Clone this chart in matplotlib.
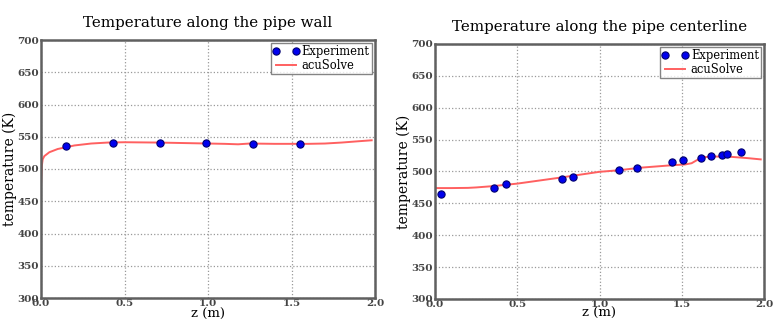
import matplotlib
matplotlib.use("Agg")
import matplotlib.pyplot as plt
import numpy as np

# Pipe wall data
wall_exp_z = [0.15, 0.43, 0.71, 0.99, 1.27, 1.55]
wall_exp_T = [536, 541, 541, 540, 539.5, 538.7]
wall_sim_z = [0.0, 0.005, 0.01, 0.02, 0.05, 0.1, 0.2, 0.3, 0.4, 0.5, 0.7, 0.9, 1.0, 1.1,
              1.18, 1.25, 1.4, 1.6, 1.7, 1.8, 1.9, 1.98]
wall_sim_T = [474, 505, 515, 520, 526, 531, 536.5, 539.5, 541, 541.5, 541, 540, 539.5, 539,
              538.3, 539.5, 539, 539, 539.5, 541, 543, 544.5]

# Pipe centerline data
cl_exp_z = [0.036, 0.36, 0.43, 0.77, 0.836, 1.12, 1.225, 1.443, 1.508, 1.617, 1.676, 1.743, 1.777, 1.86]
cl_exp_T = [464.6, 474, 480, 488, 492, 502.6, 506, 514.6, 517.7, 521, 524, 526, 527, 530.7]
cl_sim_z = [0.0, 0.1, 0.2, 0.25, 0.35, 0.5, 0.75, 1.0, 1.12, 1.25, 1.45, 1.52, 1.56, 1.6, 1.63,
            1.7, 1.8, 1.9, 1.98]
cl_sim_T = [474, 474, 474.3, 475, 477, 481, 490, 499.5, 502, 506, 510, 511, 513, 519, 522.5,
            523.5, 523, 521, 519]

xticks = [0.0, 0.5, 1.0, 1.5, 2.0]
xticklabels = ['0.0', '0.5', '1.0', '1.5', '2.0']
yticks = [300, 350, 400, 450, 500, 550, 600, 650, 700]

plt.rcParams['font.family'] = ['DejaVu Serif']

fig = plt.figure(figsize=(7.83, 3.22), dpi=100)
W, H = 783, 322
ax1 = fig.add_axes([41 / W, 1 - 298 / H, (375 - 41) / W, (298 - 40) / H])
ax2 = fig.add_axes([435 / W, 1 - 299 / H, (764 - 435) / W, (299 - 44) / H])

panels = [
    (ax1, wall_exp_z, wall_exp_T, wall_sim_z, wall_sim_T, "Temperature along the pipe wall", 24 / 334, 0),
    (ax2, cl_exp_z, cl_exp_T, cl_sim_z, cl_sim_T, "Temperature along the pipe centerline", 24 / 329, -1),
]

for ax, ez, eT, sz, sT, title, ylx, xpad in panels:
    ax.plot(ez, eT, 'o', color='#0000ee', markeredgecolor='#000070', markersize=5.2,
            markeredgewidth=0.8, linestyle='none', label='Experiment', zorder=3)
    ax.plot(sz, sT, '-', color='#ff6060', linewidth=1.4, label='acuSolve', zorder=2)
    ax.set_xlim(0, 2.0)
    ax.set_ylim(300, 700)
    ax.set_xticks(xticks)
    ax.set_yticks(yticks)
    ax.set_xticklabels(xticklabels)
    ax.grid(True, color='#999999', linestyle=':', linewidth=0.9)
    ax.set_axisbelow(True)
    for sp in ax.spines.values():
        sp.set_color('#606060')
        sp.set_linewidth(1.8)
    ax.tick_params(direction='in', labelsize=7.5, labelcolor='#444444', color='#606060',
                   length=0, pad=1.5, top=False, right=False)
    ax.tick_params(axis='x', pad=0.5)
    for lbl in ax.get_xticklabels() + ax.get_yticklabels():
        lbl.set_fontweight('semibold')
    ax.set_title(title, fontsize=10.8, pad=9)
    ax.set_ylabel('temperature (K)', fontsize=10)
    ax.yaxis.set_label_coords(-ylx, 0.5)
    ax.set_xlabel('z (m)', fontsize=9.5, labelpad=xpad)
    leg = ax.legend(loc='upper right', numpoints=2, fontsize=8.3, frameon=True, fancybox=False,
                    borderaxespad=0.25, handlelength=2.3, borderpad=0.2, labelspacing=0.05,
                    handletextpad=0.2)
    leg.get_frame().set_edgecolor('#666666')
    leg.get_frame().set_linewidth(1.0)

fig.savefig('out.png', dpi=100)
